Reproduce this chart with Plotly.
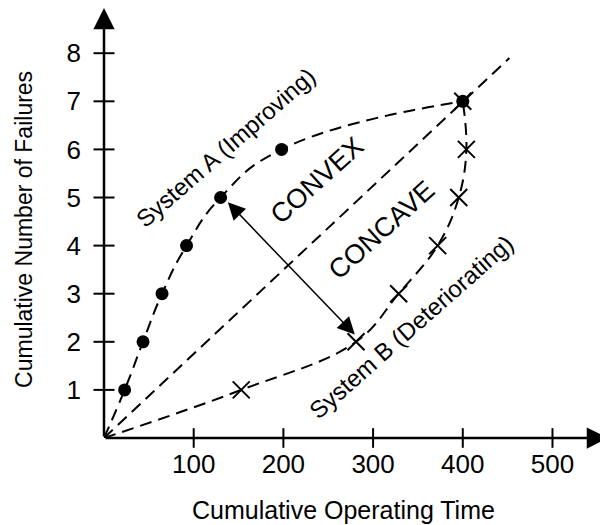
import plotly.graph_objects as go

# System A (improving) - filled circles
a_time = [23, 43.5, 64.7, 92, 130, 198, 400]
a_fail = [1, 2, 3, 4, 5, 6, 7]

# System B (deteriorating) - crosses
b_time = [153, 281, 328.5, 372, 395.5, 404, 400]
b_fail = [1, 2, 3, 4, 5, 6, 7]

# straight reference line through the origin
ref_time = [0, 452]
ref_fail = [0, 7.9]

# double headed arrow between the two curves
arrow_from = (136.5, 4.93)
arrow_to = (279.6, 2.15)

x_ticks = [100, 200, 300, 400, 500]
y_ticks = [1, 2, 3, 4, 5, 6, 7, 8]

x_max = 561.9
y_max = 8.94

FONT = "Liberation Sans, Arial, sans-serif"
DASH = "12px,7px"

fig = go.Figure()

# dashed curves, starting at the origin
fig.add_trace(go.Scatter(
    x=[0] + a_time, y=[0] + a_fail, mode="lines",
    line=dict(color="black", width=2, dash=DASH, shape="spline", smoothing=1.3),
    hoverinfo="skip"
))
fig.add_trace(go.Scatter(
    x=[0] + b_time, y=[0] + b_fail, mode="lines",
    line=dict(color="black", width=2, dash=DASH, shape="spline", smoothing=1.1),
    hoverinfo="skip"
))
fig.add_trace(go.Scatter(
    x=ref_time, y=ref_fail, mode="lines",
    line=dict(color="black", width=2, dash=DASH),
    hoverinfo="skip"
))

# markers
fig.add_trace(go.Scatter(
    x=b_time, y=b_fail, mode="markers",
    marker=dict(symbol="x-thin-open", size=17, color="black",
                line=dict(color="black", width=2)),
    cliponaxis=False
))
fig.add_trace(go.Scatter(
    x=a_time, y=a_fail, mode="markers",
    marker=dict(symbol="circle", size=13, color="black"),
    cliponaxis=False
))

# tick marks that cross the axes
fig.add_trace(go.Scatter(
    x=x_ticks, y=[0] * len(x_ticks), mode="markers",
    marker=dict(symbol="line-ns-open", size=14, color="black",
                line=dict(color="black", width=2)),
    cliponaxis=False, hoverinfo="skip"
))
fig.add_trace(go.Scatter(
    x=[0] * len(y_ticks), y=y_ticks, mode="markers",
    marker=dict(symbol="line-ew-open", size=15, color="black",
                line=dict(color="black", width=2)),
    cliponaxis=False, hoverinfo="skip"
))

# axes drawn as arrows
fig.add_annotation(x=x_max, y=0, ax=0, ay=0, xref="x", yref="y", axref="x", ayref="y",
                   text="", showarrow=True, arrowhead=2, arrowsize=1.7, arrowwidth=2.5,
                   arrowcolor="black")
fig.add_annotation(x=0, y=y_max, ax=0, ay=0, xref="x", yref="y", axref="x", ayref="y",
                   text="", showarrow=True, arrowhead=2, arrowsize=1.7, arrowwidth=2.5,
                   arrowcolor="black")

# arrow between A and B
fig.add_annotation(x=arrow_to[0], y=arrow_to[1], ax=arrow_from[0], ay=arrow_from[1],
                   xref="x", yref="y", axref="x", ayref="y",
                   text="", showarrow=True, arrowside="end+start",
                   arrowhead=2, startarrowhead=2, arrowsize=2.3, startarrowsize=2.3,
                   arrowwidth=1.5, arrowcolor="black")

# labels inside the plot
labels = [
    ("System A (Improving)", 135.7, 6.03, -41, 24),
    ("CONVEX", 238, 5.36, -42, 27),
    ("CONCAVE", 309.6, 4.32, -42, 27),
    ("System B (Deteriorating)", 343, 2.31, -41.5, 24),
]
for txt, lx, ly, ang, fs in labels:
    fig.add_annotation(x=lx, y=ly, xref="x", yref="y", text=txt, showarrow=False,
                       textangle=ang, font=dict(family=FONT, size=fs, color="black"))

# axis titles
fig.add_annotation(x=0.476, y=-0.167, xref="paper", yref="paper",
                   xanchor="center", yanchor="middle",
                   text="Cumulative Operating Time", showarrow=False,
                   font=dict(family=FONT, size=25, color="black"))
fig.add_annotation(x=-0.159, y=0.486, xref="paper", yref="paper",
                   xanchor="center", yanchor="middle",
                   text="Cumulative Number of Failures", showarrow=False, textangle=-90,
                   font=dict(family=FONT, size=23, color="black"))

fig.update_xaxes(
    range=[0, x_max], tickvals=x_ticks, ticks="", showline=False, showgrid=False,
    zeroline=False, ticklabelstandoff=8, tickfont=dict(family=FONT, size=26, color="black")
)
fig.update_yaxes(
    range=[0, y_max], tickvals=y_ticks, ticks="", showline=False, showgrid=False,
    zeroline=False, ticklabelstandoff=22, tickfont=dict(family=FONT, size=26, color="black")
)

# page body keeps its 8px margin, so the figure is a bit smaller than the window
fig.update_layout(
    width=600, height=517,
    showlegend=False,
    margin=dict(l=96, r=0, t=0, b=87),
    paper_bgcolor="white", plot_bgcolor="white"
)

fig.write_html("out.html")
